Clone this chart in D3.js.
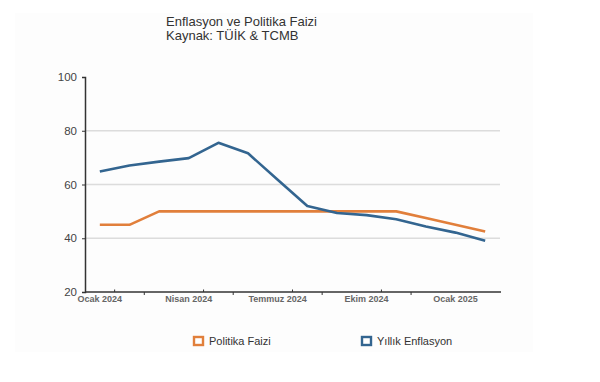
<!DOCTYPE html>
<html><head><meta charset="utf-8">
<script src="https://cdn.jsdelivr.net/npm/d3@7"></script>
<style>body{margin:0;background:#fff}svg{display:block}text{font-family:"Liberation Sans",Arial,sans-serif}</style>
</head><body><svg id="c" width="600" height="382"></svg>
<script>
const months = ["Ocak 2024","Şubat 2024","Mart 2024","Nisan 2024","Mayıs 2024","Haziran 2024","Temmuz 2024","Ağustos 2024","Eylül 2024","Ekim 2024","Kasım 2024","Aralık 2024","Ocak 2025","Şubat 2025"];
const tickLabels = ["Ocak 2024","Nisan 2024","Temmuz 2024","Ekim 2024","Ocak 2025"];
const politikaFaizi = [45,45,50,50,50,50,50,50,50,50,50,47.5,45,42.5];
const yillikEnflasyon = [64.8,67.1,68.5,69.8,75.5,71.6,61.8,52.0,49.4,48.6,47.1,44.4,42.1,39.1];
const yTicks = [20,40,60,80,100];
const seriesNames = ["Politika Faizi","Yıllık Enflasyon"];
const colors = ["#e17f3b","#336590"];

const svg = d3.select("#c");
svg.append("rect").attr("x",15).attr("y",13).attr("width",518).attr("height",339).attr("fill","#fdfdfd");
const L=85,R=500,T=77,B=292;
const x = d3.scaleBand().domain(months).range([L,R]);
const y = d3.scaleLinear().domain([20,100]).range([B,T]);

// grid
svg.append("g").selectAll("line").data(yTicks.filter(v=>v>20&&v<100)).join("line")
  .attr("x1",L).attr("x2",R).attr("y1",d=>y(d)).attr("y2",d=>y(d))
  .attr("stroke","#dcdcdc").attr("stroke-width",1.5);

// y axis
const ya = svg.append("g").attr("transform",`translate(${L},0)`)
  .call(d3.axisLeft(y).tickValues(yTicks).tickSize(3).tickPadding(5));
ya.select(".domain").attr("stroke","#333").attr("stroke-width",1.5);
ya.selectAll(".tick line").attr("stroke","#333");
ya.selectAll("text").attr("font-size",11.5).attr("fill","#444");

// x axis
svg.append("line").attr("x1",L).attr("x2",R+1).attr("y1",B).attr("y2",B).attr("stroke","#333").attr("stroke-width",1.5);
const bw = x.bandwidth();
const upTicks=[1,4,7,10], downTicks=[2,5,8,11];
svg.append("g").selectAll("line").data(upTicks).join("line")
  .attr("x1",d=>L+d*bw).attr("x2",d=>L+d*bw).attr("y1",B).attr("y2",B-2.5).attr("stroke","#333");
svg.append("g").selectAll("line").data(downTicks).join("line")
  .attr("x1",d=>L+d*bw).attr("x2",d=>L+d*bw).attr("y1",B).attr("y2",B+3).attr("stroke","#333");
svg.append("g").selectAll("text").data(tickLabels).join("text")
  .attr("x",d=>x(d)+bw/2).attr("y",B+9.5).attr("text-anchor","middle")
  .attr("font-size",9).attr("font-weight","bold").attr("fill","#666").text(d=>d);

// lines
const line = d3.line().x((d,i)=>x(months[i])+bw/2).y(d=>y(d));
[politikaFaizi,yillikEnflasyon].forEach((s,k)=>{
  svg.append("path").datum(s).attr("d",line).attr("fill","none")
    .attr("stroke",colors[k]).attr("stroke-width",2.6).attr("stroke-linejoin","round");
});

// title
svg.append("text").attr("x",166).attr("y",26).attr("font-size",13).attr("fill","#333").text("Enflasyon ve Politika Faizi");
svg.append("text").attr("x",166).attr("y",40).attr("font-size",13).attr("fill","#333").text("Kaynak: TÜİK & TCMB");

// legend
const lx=[194,362];
seriesNames.forEach((n,k)=>{
  svg.append("rect").attr("x",lx[k]).attr("y",337).attr("width",9).attr("height",8)
    .attr("fill","#fff").attr("stroke",colors[k]).attr("stroke-width",2.4);
  svg.append("text").attr("x",lx[k]+15).attr("y",345).attr("font-size",11).attr("fill","#333").text(n);
});
</script></body></html>
